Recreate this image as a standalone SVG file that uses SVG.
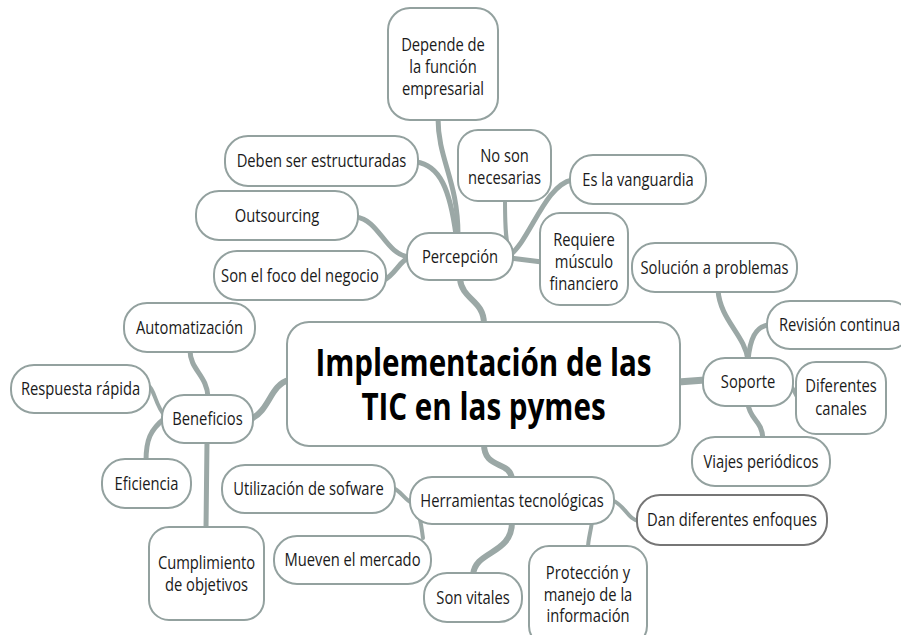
<svg xmlns="http://www.w3.org/2000/svg" width="901" height="635" viewBox="0 0 901 635">
<style>
.box{fill:#fff;stroke:#93a19f;stroke-width:2}
.dark{stroke:#767676}
.t{font-family:"Open Sans","Noto Sans",sans-serif;font-size:18px;fill:#1a1a1a;text-anchor:middle}
.title{font-family:"Open Sans","Noto Sans",sans-serif;font-size:37px;font-weight:bold;fill:#000;text-anchor:middle}
.c{fill:none;stroke:#9ba8a6;stroke-linecap:round}
.w7{stroke-width:7}.w6{stroke-width:6}.w5{stroke-width:5}.w4{stroke-width:4}
</style>
<rect width="901" height="635" fill="#fff"/>
<g id="connectors">
<path class="c w6" d="M484 324 C484 300 462 300 460 279"/>
<path class="c w5" d="M458 235 C458 180 438 160 438 118"/>
<path class="c w5" d="M416 162 C440 165 450 190 456 235"/>
<path class="c w5" d="M356 217 C380 220 385 255 410 257"/>
<path class="c w5" d="M384 280 C395 275 400 260 410 257"/>
<path class="c w4" d="M505 200 C505 230 506 245 510 252"/>
<path class="c w5" d="M572 180 C545 185 530 240 510 255"/>
<path class="c w5" d="M510 258 L542 262"/>
<path class="c w7" d="M678 382 L705 380"/>
<path class="c w5" d="M748 360 C745 335 720 320 718 290"/>
<path class="c w5" d="M748 360 C750 340 755 326 769 325"/>
<path class="c w4" d="M790 385 C795 390 795 395 798 398"/>
<path class="c w5" d="M748 404 C750 420 762 420 763 439"/>
<path class="c w6" d="M289 380 C270 385 270 410 251 419"/>
<path class="c w5" d="M190 350 C190 370 207 375 208 397"/>
<path class="c w4" d="M148 385 C155 390 155 405 165 416"/>
<path class="c w5" d="M165 418 C150 430 146 440 146 461"/>
<path class="c w5" d="M207 441 L206 529"/>
<path class="c w6" d="M484 444 C484 470 510 460 512 479"/>
<path class="c w4" d="M393 488 C400 490 405 500 412 503"/>
<path class="c w4" d="M420 520 C422 528 422 532 423 538"/>
<path class="c w6" d="M512 522 C512 555 475 550 473 575"/>
<path class="c w4" d="M592 522 C590 535 588 540 588 548"/>
<path class="c w4" d="M612 500 C625 505 628 520 639 521"/>
</g>
<g id="main"><rect class="box" x="287" y="322" width="393" height="124" rx="22"/><text class="title" transform="translate(483.5 376) scale(0.8 1)">Implementación de las</text><text class="title" transform="translate(483.5 420) scale(0.8 1)">TIC en las pymes</text></g>
<g id="percepcion"><rect class="box" x="407" y="233" width="106" height="47" rx="22"/><text class="t" transform="translate(460 263) scale(0.82 1)">Percepción</text></g>
<g id="depende"><rect class="box" x="388" y="8" width="110" height="112" rx="22"/><text class="t" transform="translate(443 51) scale(0.82 1)">Depende de</text><text class="t" transform="translate(443 73) scale(0.82 1)">la función</text><text class="t" transform="translate(443 95) scale(0.82 1)">empresarial</text></g>
<g id="deben"><rect class="box" x="225" y="136" width="193" height="50" rx="23"/><text class="t" transform="translate(321.5 167) scale(0.82 1)">Deben ser estructuradas</text></g>
<g id="noson"><rect class="box" x="458" y="130" width="93" height="71" rx="20"/><text class="t" transform="translate(504.5 162) scale(0.82 1)">No son</text><text class="t" transform="translate(504.5 184) scale(0.82 1)">necesarias</text></g>
<g id="vanguardia"><rect class="box" x="570" y="155" width="136" height="49" rx="23"/><text class="t" transform="translate(638 186) scale(0.82 1)">Es la vanguardia</text></g>
<g id="outsourcing"><rect class="box" x="196" y="191" width="162" height="49" rx="23"/><text class="t" transform="translate(277 222) scale(0.82 1)">Outsourcing</text></g>
<g id="requiere"><rect class="box" x="540" y="213" width="88" height="92" rx="20"/><text class="t" transform="translate(584 246) scale(0.82 1)">Requiere</text><text class="t" transform="translate(584 268) scale(0.82 1)">músculo</text><text class="t" transform="translate(584 290) scale(0.82 1)">financiero</text></g>
<g id="foco"><rect class="box" x="214" y="251" width="172" height="49" rx="23"/><text class="t" transform="translate(300 282) scale(0.82 1)">Son el foco del negocio</text></g>
<g id="soporte"><rect class="box" x="703" y="358" width="90" height="48" rx="22"/><text class="t" transform="translate(748 388) scale(0.82 1)">Soporte</text></g>
<g id="solucion"><rect class="box" x="632" y="243" width="165" height="49" rx="23"/><text class="t" transform="translate(714.5 274) scale(0.82 1)">Solución a problemas</text></g>
<g id="revision"><rect class="box" x="767" y="301" width="145" height="48" rx="23"/><text class="t" transform="translate(839.5 331) scale(0.82 1)">Revisión continua</text></g>
<g id="canales"><rect class="box" x="796" y="362" width="90" height="72" rx="20"/><text class="t" transform="translate(841 392) scale(0.82 1)">Diferentes</text><text class="t" transform="translate(841 415) scale(0.82 1)">canales</text></g>
<g id="viajes"><rect class="box" x="692" y="437" width="138" height="49" rx="23"/><text class="t" transform="translate(761 468) scale(0.82 1)">Viajes periódicos</text></g>
<g id="beneficios"><rect class="box" x="162" y="395" width="91" height="48" rx="22"/><text class="t" transform="translate(207.5 425) scale(0.82 1)">Beneficios</text></g>
<g id="automatizacion"><rect class="box" x="124" y="303" width="131" height="49" rx="23"/><text class="t" transform="translate(189.5 334) scale(0.82 1)">Automatización</text></g>
<g id="respuesta"><rect class="box" x="11" y="365" width="139" height="48" rx="23"/><text class="t" transform="translate(80.5 395) scale(0.82 1)">Respuesta rápida</text></g>
<g id="eficiencia"><rect class="box" x="102" y="459" width="89" height="49" rx="23"/><text class="t" transform="translate(146.5 490) scale(0.82 1)">Eficiencia</text></g>
<g id="cumplimiento"><rect class="box" x="149" y="527" width="115" height="93" rx="20"/><text class="t" transform="translate(206.5 569) scale(0.82 1)">Cumplimiento</text><text class="t" transform="translate(206.5 591) scale(0.82 1)">de objetivos</text></g>
<g id="herramientas"><rect class="box" x="410" y="477" width="204" height="47" rx="22"/><text class="t" transform="translate(512 507) scale(0.82 1)">Herramientas tecnológicas</text></g>
<g id="utilizacion"><rect class="box" x="222" y="465" width="173" height="48" rx="23"/><text class="t" transform="translate(308.5 495) scale(0.82 1)">Utilización de sofware</text></g>
<g id="mueven"><rect class="box" x="274" y="536" width="157" height="48" rx="23"/><text class="t" transform="translate(352.5 566) scale(0.82 1)">Mueven el mercado</text></g>
<g id="vitales"><rect class="box" x="424" y="573" width="98" height="49" rx="23"/><text class="t" transform="translate(473 604) scale(0.82 1)">Son vitales</text></g>
<g id="proteccion"><rect class="box" x="529" y="546" width="118" height="100" rx="20"/><text class="t" transform="translate(588 579) scale(0.82 1)">Protección y</text><text class="t" transform="translate(588 601) scale(0.82 1)">manejo de la</text><text class="t" transform="translate(588 622) scale(0.82 1)">información</text></g>
<g id="enfoques"><rect class="box dark" x="637" y="495" width="190" height="50" rx="23"/><text class="t" transform="translate(732 526) scale(0.82 1)">Dan diferentes enfoques</text></g>
</svg>
